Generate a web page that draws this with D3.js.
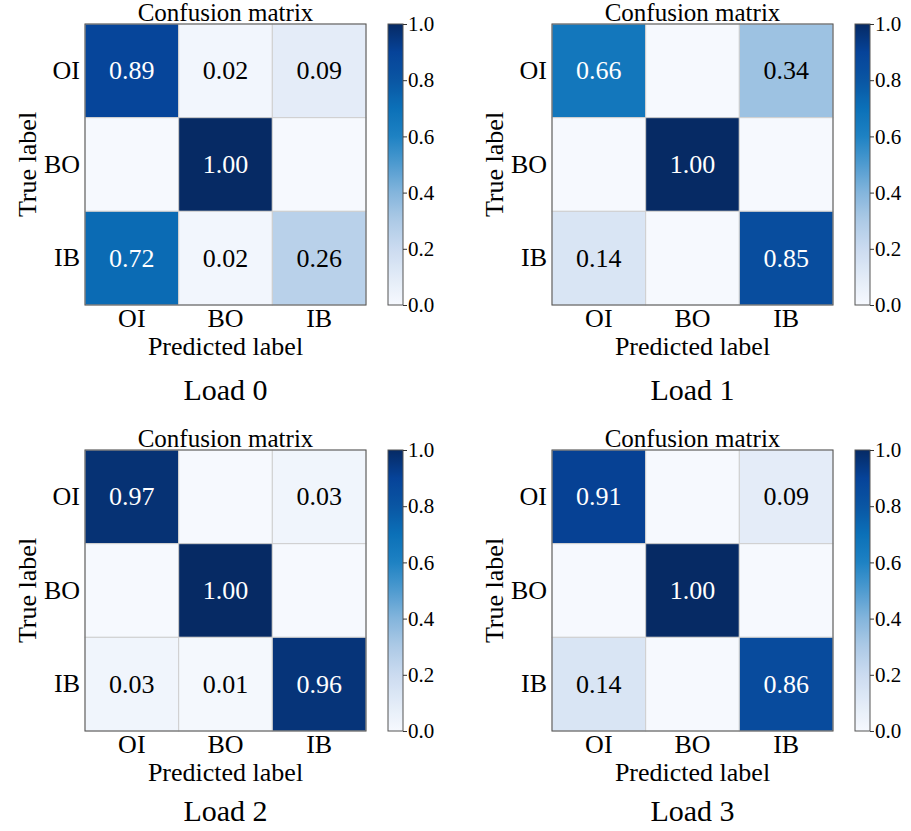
<!DOCTYPE html>
<html>
<head>
<meta charset="utf-8">
<script src="https://cdn.jsdelivr.net/npm/d3@7"></script>
<style>
  html, body { margin: 0; padding: 0; background: #fff; }
  svg text { font-family: "Liberation Serif", "Times New Roman", serif !important; }
</style>
</head>
<body>
<script>
(function (d3) {
  "use strict";

  /***** Data *****/
  var classes = ["OI", "BO", "IB"];
  var loadNames = ["Load 0", "Load 1", "Load 2", "Load 3"];
  var load0 = [[0.89, 0.02, 0.09], [0, 1.00, 0], [0.72, 0.02, 0.26]];
  var load1 = [[0.66, 0, 0.34], [0, 1.00, 0], [0.14, 0, 0.85]];
  var load2 = [[0.97, 0, 0.03], [0, 1.00, 0], [0.03, 0.01, 0.96]];
  var load3 = [[0.91, 0, 0.09], [0, 1.00, 0], [0.14, 0, 0.86]];
  var matrices = [load0, load1, load2, load3];
  var colorbarTicks = [0, 0.2, 0.4, 0.6, 0.8, 1.0];

  /***** Configuration *****/
  var width = 911, height = 831;
  var serif = "'Liberation Serif', 'Times New Roman', serif";
  var panelX = [0, 467, 0, 467];
  var panelY = [0, 0, 426, 426];
  var loadLabelY = [400, 400, 395, 395];
  var grid = { left: 85, top: 24, size: 281 };
  var bar = { left: 388, width: 15 };

  // Blues, as it looks in the (saturated) reference image
  var bluesDomain = [0, 0.1, 0.2, 0.3, 0.4, 0.5, 0.6, 0.7, 0.8, 0.9, 1.0];
  var bluesRange = ["#f6f9fe", "#e2ebf7", "#cbdbf0", "#adcae6", "#84b5dc", "#4f9bd0",
                    "#1e82c3", "#0b70b8", "#0a56a3", "#064399", "#062a64"];
  var color = d3.scaleLinear()
      .domain(bluesDomain)
      .range(bluesRange)
      .interpolate(d3.interpolateRgb)
      .clamp(true);

  var svg = d3.select("body").append("svg")
      .attr("width", width)
      .attr("height", height)
      .style("font-family", serif);

  svg.append("rect").attr("width", width).attr("height", height).attr("fill", "#fff");

  /***** Colour gradient for the colour bars *****/
  var grad = svg.append("defs").append("linearGradient")
      .attr("id", "bluesGrad")
      .attr("x1", 0).attr("y1", 1).attr("x2", 0).attr("y2", 0);
  grad.selectAll("stop")
      .data(d3.range(0, 1.0001, 0.02))
      .join("stop")
      .attr("offset", function (d) { return d; })
      .attr("stop-color", function (d) { return color(d); });

  /***** Panels *****/
  matrices.forEach(function (matrix, p) {
    var g = svg.append("g")
        .attr("transform", "translate(" + panelX[p] + "," + panelY[p] + ")");

    var x = d3.scaleBand().domain(classes).range([grid.left, grid.left + grid.size]);
    var y = d3.scaleBand().domain(classes).range([grid.top, grid.top + grid.size]);

    var cells = [];
    matrix.forEach(function (row, i) {
      row.forEach(function (v, j) {
        cells.push({ t: classes[i], pr: classes[j], v: v });
      });
    });

    g.selectAll("rect.cell")
      .data(cells)
      .join("rect")
      .attr("class", "cell")
      .attr("x", function (d) { return x(d.pr); })
      .attr("y", function (d) { return y(d.t); })
      .attr("width", x.bandwidth())
      .attr("height", y.bandwidth())
      .attr("fill", function (d) { return color(d.v); })
      .attr("stroke", "#cfcfcf")
      .attr("stroke-width", 1);

    // zero cells are left without a number, as in the reference
    g.selectAll("text.val")
      .data(cells.filter(function (d) { return d.v > 0; }))
      .join("text")
      .attr("class", "val")
      .attr("x", function (d) { return x(d.pr) + x.bandwidth() / 2; })
      .attr("y", function (d) { return y(d.t) + y.bandwidth() / 2; })
      .attr("dy", "0.33em")
      .attr("text-anchor", "middle")
      .style("font-family", serif)
      .attr("font-size", 26)
      .attr("fill", function (d) { return d.v > 0.5 ? "#fff" : "#000"; })
      .text(function (d) { return d3.format(".2f")(d.v); });

    // frame
    g.append("rect")
      .attr("x", grid.left).attr("y", grid.top)
      .attr("width", grid.size).attr("height", grid.size)
      .attr("fill", "none").attr("stroke", "#555").attr("stroke-width", 1);

    var xAxis = g.append("g")
        .attr("transform", "translate(0," + (grid.top + grid.size) + ")")
        .call(d3.axisBottom(x).tickSize(0).tickPadding(4));
    var yAxis = g.append("g")
        .attr("transform", "translate(" + grid.left + ",0)")
        .call(d3.axisLeft(y).tickSize(0).tickPadding(5));
    [xAxis, yAxis].forEach(function (a) {
      a.attr("font-family", null);
      a.select(".domain").remove();
      a.selectAll("text")
        .style("font-family", serif)
        .attr("font-size", 26).attr("fill", "#000");
    });

    var cx = grid.left + grid.size / 2;
    g.append("text")
      .attr("x", cx).attr("y", 21)
      .attr("text-anchor", "middle").attr("font-size", 25)
      .text("Confusion matrix");
    g.append("text")
      .attr("x", cx).attr("y", 355)
      .attr("text-anchor", "middle").attr("font-size", 26)
      .text("Predicted label");
    g.append("text")
      .attr("transform", "translate(36," + (grid.top + grid.size / 2) + ") rotate(-90)")
      .attr("text-anchor", "middle").attr("font-size", 26)
      .text("True label");
    g.append("text")
      .attr("x", cx).attr("y", loadLabelY[p])
      .attr("text-anchor", "middle").attr("font-size", 30)
      .text(loadNames[p]);

    /***** Colour bar *****/
    var cScale = d3.scaleLinear().domain([0, 1]).range([grid.top + grid.size, grid.top]);
    g.append("rect")
      .attr("x", bar.left).attr("y", grid.top)
      .attr("width", bar.width).attr("height", grid.size)
      .attr("fill", "url(#bluesGrad)")
      .attr("stroke", "#555").attr("stroke-width", 1);
    var cAxis = g.append("g")
        .attr("transform", "translate(" + (bar.left + bar.width) + ",0)")
        .call(d3.axisRight(cScale).tickValues(colorbarTicks).tickFormat(d3.format(".1f"))
          .tickSize(4).tickPadding(1));
    cAxis.attr("font-family", null);
    cAxis.select(".domain").remove();
    cAxis.selectAll("line").attr("stroke", "#333");
    cAxis.selectAll("text")
      .style("font-family", serif)
      .attr("font-size", 21).attr("fill", "#000");
  });

})(d3);
</script>
</body>
</html>
